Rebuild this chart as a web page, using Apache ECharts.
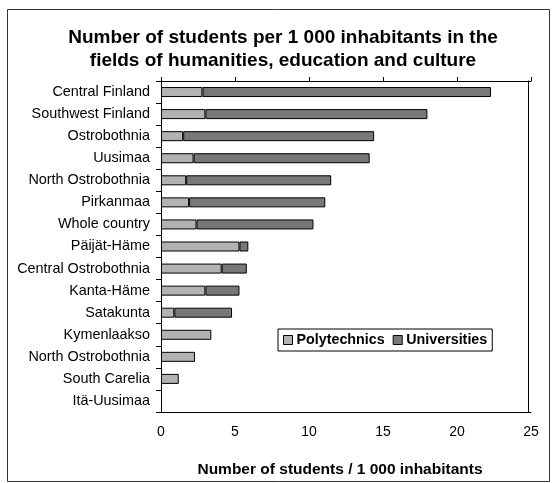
<!DOCTYPE html>
<html>
<head>
<meta charset="utf-8">
<script src="https://cdn.jsdelivr.net/npm/echarts@6/dist/echarts.min.js"></script>
<style>
  html, body { margin: 0; padding: 0; background: #fff; }
  #chart { width: 553px; height: 483px; }
</style>
</head>
<body>
<div id="chart"></div>
<script>
  // regions, top to bottom
  var categories = ['Central Finland', 'Southwest Finland', 'Ostrobothnia', 'Uusimaa',
    'North Ostrobothnia', 'Pirkanmaa', 'Whole country', 'Päijät-Häme',
    'Central Ostrobothnia', 'Kanta-Häme', 'Satakunta', 'Kymenlaakso',
    'North Ostrobothnia', 'South Carelia', 'Itä-Uusimaa'];
  var polytechnics = [2.8, 3.0, 1.5, 2.2, 1.7, 1.9, 2.4, 5.3, 4.1, 3.0, 0.9, 3.4, 2.3, 1.2, 0];
  var universities = [19.5, 15.0, 12.9, 11.9, 9.8, 9.2, 7.9, 0.6, 1.7, 2.3, 3.9, 0, 0, 0, 0];
  var xTicks = [0, 5, 10, 15, 20, 25];

  // zero means no bar at all
  function noZero(arr) {
    return arr.map(function (v) { return v === 0 ? null : v; });
  }

  var font = 'Liberation Sans, Arial, sans-serif';
  var myChart = echarts.init(document.getElementById('chart'));

  myChart.setOption({
    animation: false,
    textStyle: { fontFamily: font },
    title: {
      text: 'Number of students per 1 000 inhabitants in the\nfields of humanities, education and culture',
      left: 278,
      top: 21,
      textAlign: 'center',
      textStyle: { fontSize: 19, fontWeight: 'bold', lineHeight: 23, color: '#000', fontFamily: font }
    },
    graphic: [{
      type: 'rect',
      shape: { x: 7.5, y: 9.5, width: 542, height: 472 },
      style: { fill: 'none', stroke: '#333', lineWidth: 1 },
      silent: true
    }],
    legend: {
      data: ['Polytechnics', 'Universities'],
      left: 278,
      top: 329,
      padding: [4, 5, 4, 5],
      itemGap: 8,
      itemWidth: 9,
      itemHeight: 9,
      icon: 'rect',
      borderColor: '#000',
      borderWidth: 1,
      itemStyle: { borderColor: '#000', borderWidth: 1 },
      textStyle: { fontSize: 14.3, fontWeight: 'bold', color: '#000', fontFamily: font, padding: [0, 0, 0, -1] }
    },
    grid: { left: 161, right: 22, top: 81, bottom: 70 },
    xAxis: [{
      type: 'value',
      min: xTicks[0],
      max: xTicks[xTicks.length - 1],
      interval: 5,
      name: 'Number of students / 1 000 inhabitants',
      nameLocation: 'middle',
      nameGap: 50,
      nameTextStyle: { fontSize: 15.5, fontWeight: 'bold', color: '#000', fontFamily: font, padding: [0, 12, 0, 0] },
      axisLine: { show: true, lineStyle: { color: '#000', width: 1 } },
      axisTick: { show: false },
      splitLine: { show: false },
      axisLabel: { fontSize: 14, color: '#000', margin: 13, fontFamily: font }
    }, {
      type: 'value',
      position: 'top',
      min: xTicks[0],
      max: xTicks[xTicks.length - 1],
      interval: 5,
      axisLine: { show: true, onZero: false, lineStyle: { color: '#000', width: 1 } },
      axisTick: { show: true, length: 4, lineStyle: { color: '#000' } },
      splitLine: { show: false },
      axisLabel: { show: false }
    }],
    yAxis: [{
      type: 'category',
      data: categories,
      inverse: true,
      axisLine: { show: true, lineStyle: { color: '#000', width: 1 } },
      axisTick: { show: true, length: 5, lineStyle: { color: '#000' } },
      axisLabel: { fontSize: 14.4, color: '#000', margin: 11, fontFamily: font }
    }, {
      type: 'value',
      position: 'right',
      offset: -3,
      min: 0,
      max: 1,
      axisLine: { show: true, onZero: false, lineStyle: { color: '#000', width: 1 } },
      axisTick: { show: false },
      axisLabel: { show: false },
      splitLine: { show: false }
    }],
    series: [{
      name: 'Polytechnics',
      type: 'bar',
      stack: 'total',
      barWidth: 10,
      data: noZero(polytechnics),
      itemStyle: { color: '#b2b2b2', borderColor: '#000', borderWidth: 1 }
    }, {
      name: 'Universities',
      type: 'bar',
      stack: 'total',
      barWidth: 10,
      data: noZero(universities),
      itemStyle: { color: '#787878', borderColor: '#000', borderWidth: 1 }
    }, {
      // holds the top axis and right frame line
      name: 'frame',
      type: 'line',
      xAxisIndex: 1,
      yAxisIndex: 1,
      data: [],
      silent: true
    }]
  });
</script>
</body>
</html>
